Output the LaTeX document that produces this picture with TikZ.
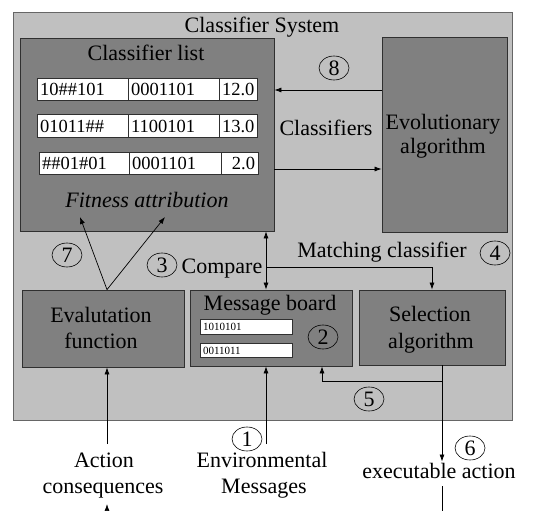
\documentclass[tikz,border=0pt]{standalone}
\usepackage{fontspec}
\setmainfont{Liberation Serif}
\usetikzlibrary{arrows.meta,shapes.geometric}
\definecolor{sysgray}{HTML}{C0C0C0}
\definecolor{boxgray}{HTML}{808080}
\definecolor{edgegray}{HTML}{303030}
\begin{document}
\begin{tikzpicture}[x=1pt,y=-1pt,
  lbl/.style={font=\fontsize{22}{24}\selectfont, inner sep=0pt, anchor=base},
  panel/.style={draw=edgegray, fill=boxgray, line width=0.8pt, inner sep=0pt},
  cell/.style={draw=edgegray, fill=white, line width=0.6pt, inner xsep=3pt, inner ysep=0pt,
    minimum height=22.5pt, font=\fontsize{18.5}{20}\selectfont},
  msgcell/.style={draw=edgegray, fill=white, line width=0.6pt, inner xsep=3pt, inner ysep=0pt,
    minimum height=14.5pt, text width=86pt, align=left, font=\fontsize{11}{12}\selectfont},
  num/.style={draw=black, ellipse, minimum width=30pt, minimum height=24pt, inner sep=0pt,
    line width=0.6pt, font=\fontsize{22}{24}\selectfont},
  conn/.style={draw=black, line width=0.7pt},
  arr/.style={conn, -{Latex[length=7pt,width=5pt]}},
  darr/.style={conn, {Latex[length=7pt,width=5pt]}-{Latex[length=7pt,width=5pt]}}]

\useasboundingbox (0,0) rectangle (533,511);

% outer system frame
\node[draw=black!60, fill=sysgray, line width=0.8pt, minimum width=499pt, minimum height=408pt,
  inner sep=0pt] (sys) at (262.5,216) {};
\node[lbl] (systitle) at (262,33) {Classifier System};

% main blocks
\node[panel, minimum width=254pt, minimum height=193pt] (cl) at (147,134.5) {};
\node[panel, minimum width=125pt, minimum height=195pt] (evo) at (444.5,134.5) {};
\node[panel, minimum width=162pt, minimum height=77pt] (ev) at (103,328.5) {};
\node[panel, minimum width=162pt, minimum height=76pt] (mb) at (271,328) {};
\node[panel, minimum width=146pt, minimum height=75pt] (sel) at (432,327.5) {};

% block titles
\node[lbl] (cltitle) at (146,60) {Classifier list};
\node[lbl] (fit) at (147,207) {\itshape Fitness attribution};
\node[lbl] (evo1) at (443,129) {Evolutionary};
\node[lbl] (evo2) at (443,153) {algorithm};
\node[lbl] (ev1) at (101,322) {Evalutation};
\node[lbl] (ev2) at (101,348) {function};
\node[lbl] (mbtitle) at (270,310) {Message board};
\node[lbl] (sel1) at (430,321) {Selection};
\node[lbl] (sel2) at (431,348) {algorithm};

% classifier rows
\node[cell, text width=85pt, align=left] (r1a) at (82.5,89.5) {10\#\#101};
\node[cell, text width=85pt, align=left] (r1b) at (173.5,89.5) {0001101};
\node[cell, text width=32pt, align=right] (r1c) at (238,89.5) {12.0};
\node[cell, text width=85pt, align=left] (r2a) at (82.5,126) {01011\#\#};
\node[cell, text width=85pt, align=left] (r2b) at (173.5,126) {1100101};
\node[cell, text width=32pt, align=right] (r2c) at (238,126) {13.0};
\node[cell, text width=84pt, align=left] (r3a) at (84,163.5) {\#\#01\#01};
\node[cell, text width=86pt, align=left] (r3b) at (175,163.5) {0001101};
\node[cell, text width=31pt, align=right] (r3c) at (239.5,163.5) {2.0};

% message board entries
\node[msgcell] (m1) at (246,327) {1010101};
\node[msgcell] (m2) at (246,350.5) {0011011};

% side labels
\node[lbl] (clsf) at (326,135) {Classifiers};
\node[lbl] (match) at (382,257) {Matching classifier};
\node[lbl] (cmp) at (222,273) {Compare};
\node[lbl] (act1) at (104,467) {Action};
\node[lbl] (act2) at (103,493) {consequences};
\node[lbl] (env1) at (262,467) {Environmental};
\node[lbl] (env2) at (264,493) {Messages};
\node[lbl] (exec) at (439,478) {executable action};

% step numbers
\node[num] (n1) at (247,439) {1};
\node[num] (n2) at (323,337) {2};
\node[num] (n3) at (162,265) {3};
\node[num] (n4) at (495,253) {4};
\node[num] (n5) at (369,399) {5};
\node[num] (n6) at (470,448) {6};
\node[num] (n7) at (67,255) {7};
\node[num] (n8) at (334,68) {8};

% routing points
\coordinate (row8) at (0,90);
\coordinate (row9) at (0,169);
\coordinate (cx) at (266,267);
\coordinate (evx) at (107,0);
\coordinate (ft1) at (80,217);
\coordinate (ft2) at (165,217);
\coordinate (inlow) at (0,444);
\coordinate (sx) at (442,381);
\coordinate (m5) at (322,0);
\coordinate (bot) at (0,512);
\coordinate (bottip) at (0,504);

% connectors
\draw[arr] (evo.west |- row8) -- (cl.east |- row8);
\draw[arr] (cl.east |- row9) -- (evo.west |- row9);
\draw[darr] (cx |- cl.south) -- (cx |- mb.north);
\draw[arr] (cx) -- (cx -| sel.north) -- (sel.north);
\draw[arr] (evx |- ev.north) -- (ft1);
\draw[arr] (evx |- ev.north) -- (ft2);
\draw[arr] (evx |- inlow) -- (evx |- ev.south);
\draw[arr] (cx |- inlow) -- (cx |- mb.south);
\draw[conn] (sx |- sel.south) -- (sx);
\draw[arr] (sx) -- (m5 |- sx) -- (m5 |- mb.south);
\draw[arr] (sx) -- ([yshift=1pt]sx |- exec.north);
\draw[conn] ([yshift=-8pt]sx |- exec.south) -- (sx |- bot);
\draw[arr] (evx |- bot) -- (evx |- bottip);
\end{tikzpicture}
\end{document}
